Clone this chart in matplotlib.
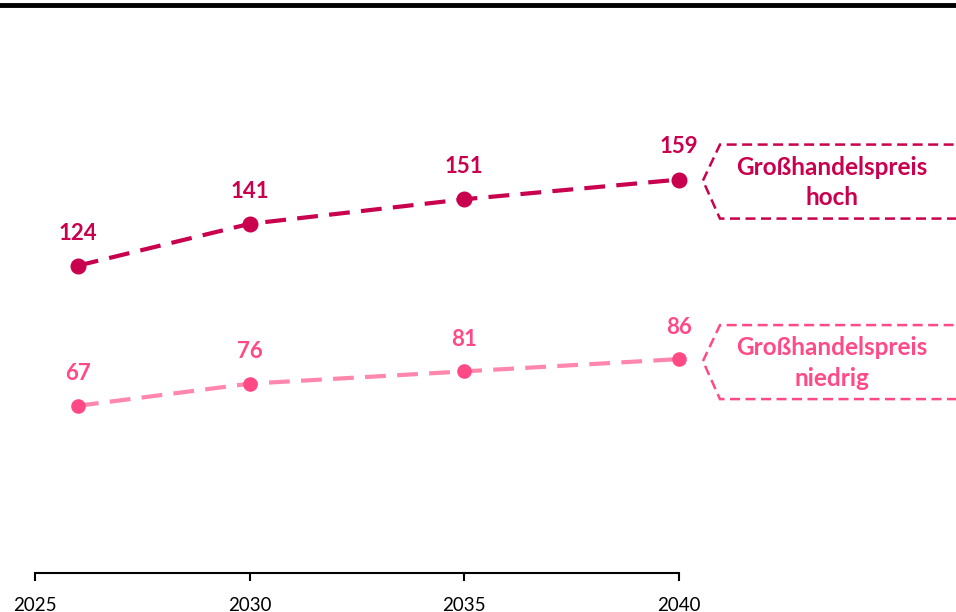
import matplotlib.pyplot as plt
from matplotlib.lines import Line2D
from matplotlib.patches import Polygon

plt.rcParams['font.family'] = ['Lato', 'DejaVu Sans']

years = [2026, 2030, 2035, 2040]
high = [124, 141, 151, 159]
low = [67, 76, 81, 86]
xticks = [2025, 2030, 2035, 2040]
name_high = 'Großhandelspreis\nhoch'
name_low = 'Großhandelspreis\nniedrig'

dark = '#C8004E'
light_line = '#FF86AC'
light = '#FF4A86'

fig = plt.figure(figsize=(9.56, 6.12), dpi=100)
ax = fig.add_axes([0, 39 / 612, 1, 568 / 612])

# 35 px left of 2025, 42.93 px per year
ax.set_xlim(2025 - 35 / 42.93, 2025 + 921 / 42.93)
ax.set_ylim(-1, 230)

ax.plot(years, high, color=dark, lw=3, dashes=(5, 2.7), zorder=2)
ax.plot(years, high, 'o', color=dark, ms=10.5, zorder=3)
ax.plot(years, low, color=light_line, lw=3, dashes=(5, 2.7), zorder=2)
ax.plot(years, low, 'o', color=light, ms=9.5, zorder=3)

for x, v in zip(years, high):
    ax.annotate(str(v), (x, v), xytext=(0, 23.5), textcoords='offset points',
                ha='center', va='center', color=dark, fontsize=16, fontweight='bold')
for x, v in zip(years, low):
    ax.annotate(str(v), (x, v), xytext=(0, 23), textcoords='offset points',
                ha='center', va='center', color=light, fontsize=16, fontweight='bold')

for s in ['left', 'right', 'top']:
    ax.spines[s].set_visible(False)
ax.spines['bottom'].set_bounds(2025, 2040)
ax.spines['bottom'].set_linewidth(1.5)
ax.set_xticks(xticks)
ax.set_xticklabels([str(t) for t in xticks])
ax.tick_params(axis='x', length=6, width=1.5, labelsize=13.5, pad=11)
ax.set_yticks([])

# top rule
fig.add_artist(Line2D([0, 1], [1 - 5 / 612, 1 - 5 / 612], color='black', lw=3.5,
                      transform=fig.transFigure))

# callouts next to the last point of each series
fig.canvas.draw()
for vals, label, col, dy in [(high, name_high, dark, 1), (low, name_low, light, 2)]:
    px, py = ax.transData.transform((years[-1], vals[-1]))
    py = py - dy
    verts = [(px + 24, py), (px + 41, py + 36), (px + 400, py + 36),
             (px + 400, py - 38), (px + 41, py - 38)]
    poly = Polygon(verts, closed=True, fill=False, edgecolor=col, lw=1.8,
                   linestyle=(0, (4, 2.2)), transform=None, clip_on=False)
    fig.add_artist(poly)
    fx, fy = fig.transFigure.inverted().transform((px + 153, py - 2))
    fig.text(fx, fy, label, ha='center', va='center', color=col, fontsize=17.5,
             fontweight='bold', linespacing=1.4)

fig.savefig('out.png', dpi=100)
